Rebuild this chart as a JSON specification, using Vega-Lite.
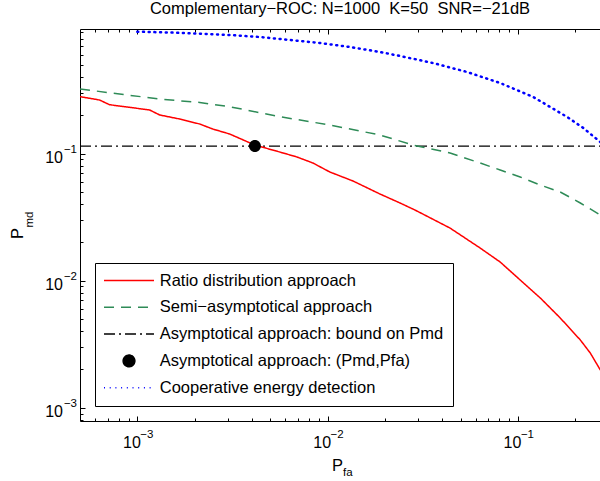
{
  "$schema": "https://vega.github.io/schema/vega-lite/v6.json",
  "width": 520,
  "height": 392,
  "autosize": {"type": "none"},
  "padding": {"left": 80, "top": 29, "right": 0, "bottom": 60},
  "background": "white",
  "config": {
    "view": {"stroke": null},
    "font": "Liberation Sans",
    "axis": {"grid": false, "domainColor": "black", "tickColor": "black", "labelColor": "black", "titleColor": "black", "labelFont": "Liberation Sans", "titleFont": "Liberation Sans", "titleFontWeight": "normal", "domainWidth": 1, "tickWidth": 1, "labelOverlap": false, "labelFlush": false, "labelBound": false}
  },
  "title": {"text": "Complementary−ROC: N=1000\u00a0 K=50\u00a0 SNR=−21dB", "font": "Liberation Sans", "fontSize": 16.5, "fontWeight": "normal", "color": "black", "anchor": "middle", "frame": "group", "offset": 10, "dy": 18, "baseline": "alphabetic"},
  "datasets": {
    "ratio": [
      {"s": "ratio", "x": 0.0005, "y": 0.280},
      {"s": "ratio", "x": 0.000633, "y": 0.2636},
      {"s": "ratio", "x": 0.000715, "y": 0.242},
      {"s": "ratio", "x": 0.001161, "y": 0.220},
      {"s": "ratio", "x": 0.001311, "y": 0.201},
      {"s": "ratio", "x": 0.001669, "y": 0.1868},
      {"s": "ratio", "x": 0.002128, "y": 0.1706},
      {"s": "ratio", "x": 0.00249, "y": 0.1559},
      {"s": "ratio", "x": 0.00306, "y": 0.1423},
      {"s": "ratio", "x": 0.004143, "y": 0.1166},
      {"s": "ratio", "x": 0.00561, "y": 0.1027},
      {"s": "ratio", "x": 0.0069, "y": 0.0939},
      {"s": "ratio", "x": 0.00837, "y": 0.0842},
      {"s": "ratio", "x": 0.01028, "y": 0.0715},
      {"s": "ratio", "x": 0.01359, "y": 0.0608},
      {"s": "ratio", "x": 0.01885, "y": 0.0480},
      {"s": "ratio", "x": 0.02402, "y": 0.0408},
      {"s": "ratio", "x": 0.0288, "y": 0.0359},
      {"s": "ratio", "x": 0.044, "y": 0.0259},
      {"s": "ratio", "x": 0.0633, "y": 0.01805},
      {"s": "ratio", "x": 0.0807, "y": 0.0140},
      {"s": "ratio", "x": 0.1028, "y": 0.01011},
      {"s": "ratio", "x": 0.1311, "y": 0.0073},
      {"s": "ratio", "x": 0.1669, "y": 0.00508},
      {"s": "ratio", "x": 0.2128, "y": 0.00341},
      {"s": "ratio", "x": 0.2402, "y": 0.00269},
      {"s": "ratio", "x": 0.2711, "y": 0.00198}
    ],
    "semi": [
      {"s": "semi", "x": 0.0005, "y": 0.3218},
      {"s": "semi", "x": 0.000807, "y": 0.2938},
      {"s": "semi", "x": 0.001311, "y": 0.2684},
      {"s": "semi", "x": 0.002128, "y": 0.2520},
      {"s": "semi", "x": 0.00306, "y": 0.2334},
      {"s": "semi", "x": 0.00561, "y": 0.1948},
      {"s": "semi", "x": 0.01028, "y": 0.1675},
      {"s": "semi", "x": 0.01885, "y": 0.1398},
      {"s": "semi", "x": 0.0281, "y": 0.1166},
      {"s": "semi", "x": 0.044, "y": 0.1009},
      {"s": "semi", "x": 0.0633, "y": 0.0842},
      {"s": "semi", "x": 0.0807, "y": 0.0742},
      {"s": "semi", "x": 0.1028, "y": 0.0653},
      {"s": "semi", "x": 0.1311, "y": 0.0565},
      {"s": "semi", "x": 0.1669, "y": 0.0498},
      {"s": "semi", "x": 0.2128, "y": 0.0408},
      {"s": "semi", "x": 0.2711, "y": 0.0328}
    ],
    "coop": [
      {"s": "coop", "x": 0.001, "y": 0.9085},
      {"s": "coop", "x": 0.001479, "y": 0.8953},
      {"s": "coop", "x": 0.002128, "y": 0.8762},
      {"s": "coop", "x": 0.00306, "y": 0.8555},
      {"s": "coop", "x": 0.0044, "y": 0.8253},
      {"s": "coop", "x": 0.00633, "y": 0.7816},
      {"s": "coop", "x": 0.00911, "y": 0.7403},
      {"s": "coop", "x": 0.01311, "y": 0.6885},
      {"s": "coop", "x": 0.01885, "y": 0.6288},
      {"s": "coop", "x": 0.02402, "y": 0.5851},
      {"s": "coop", "x": 0.0358, "y": 0.5152},
      {"s": "coop", "x": 0.0541, "y": 0.4377},
      {"s": "coop", "x": 0.0807, "y": 0.3586},
      {"s": "coop", "x": 0.1203, "y": 0.2783},
      {"s": "coop", "x": 0.1817, "y": 0.1937},
      {"s": "coop", "x": 0.2207, "y": 0.1587},
      {"s": "coop", "x": 0.2711, "y": 0.1231}
    ],
    "bound": [
      {"s": "bound", "x": 0.0005, "y": 0.1145},
      {"s": "bound", "x": 0.27, "y": 0.1145}
    ],
    "point": [
      {"s": "point", "x": 0.00415, "y": 0.1145}
    ]
  },
  "layer": [
    {
      "data": {"name": "bound"},
      "mark": {"type": "line", "strokeWidth": 1.3, "clip": true},
      "encoding": {
        "x": {"field": "x", "type": "quantitative", "scale": {"type": "log", "domain": [0.0005, 0.27], "nice": false},
              "axis": {"orient": "top", "values": [0.0006, 0.0007, 0.0008, 0.0009, 0.002, 0.003, 0.004, 0.005, 0.006, 0.007, 0.008, 0.009, 0.02, 0.03, 0.04, 0.05, 0.06, 0.07, 0.08, 0.09, 0.2], "tickSize": -3, "labels": false, "title": null, "domain": false}},
        "y": {"field": "y", "type": "quantitative", "scale": {"type": "log", "domain": [0.000786, 0.954], "nice": false}, "axis": null},
        "color": {"field": "s", "type": "nominal", "scale": {"domain": ["ratio", "semi", "bound", "point", "coop"], "range": ["#ff0000", "#2e8b57", "#000000", "#000000", "#0000ff"]}},
        "strokeDash": {"field": "s", "type": "nominal", "scale": {"domain": ["ratio", "semi", "bound", "point", "coop"], "range": [[1, 0], [10, 7], [11, 4, 2, 4], [1, 0], [1, 4.7]]}, "legend": {"title": null}}
      }
    },
    {
      "data": {"name": "semi"},
      "mark": {"type": "line", "strokeWidth": 1.5, "clip": true},
      "encoding": {
        "x": {"field": "x", "type": "quantitative", "scale": {"type": "log", "domain": [0.0005, 0.27], "nice": false},
              "axis": {"orient": "bottom", "values": [0.0006, 0.0007, 0.0008, 0.0009, 0.001, 0.002, 0.003, 0.004, 0.005, 0.006, 0.007, 0.008, 0.009, 0.01, 0.02, 0.03, 0.04, 0.05, 0.06, 0.07, 0.08, 0.09, 0.1, 0.2],
                       "labelExpr": "datum.value == 0.001 ? '−3' : datum.value == 0.01 ? '−2' : datum.value == 0.1 ? '−1' : ''",
                       "tickSize": -3, "labelPadding": 19.5, "labelAlign": "left", "labelBaseline": "alphabetic", "labelOffset": 2.5, "labelFontSize": 11.5,
                       "title": "fa", "titleFontSize": 11.5, "titleX": 262.5, "titleY": 54, "titleAlign": "left", "titleBaseline": "alphabetic", "domain": false}},
        "y": {"field": "y", "type": "quantitative", "scale": {"type": "log", "domain": [0.000786, 0.954], "nice": false},
              "axis": {"orient": "left", "values": [0.0008, 0.0009, 0.001, 0.002, 0.003, 0.004, 0.005, 0.006, 0.007, 0.008, 0.009, 0.01, 0.02, 0.03, 0.04, 0.05, 0.06, 0.07, 0.08, 0.09, 0.1, 0.2, 0.3, 0.4, 0.5, 0.6, 0.7, 0.8, 0.9],
                       "labelExpr": "datum.value == 0.001 ? '−3' : datum.value == 0.01 ? '−2' : datum.value == 0.1 ? '−1' : ''",
                       "tickSize": -3, "labelPadding": 6.5, "labelAlign": "right", "labelBaseline": "alphabetic", "labelOffset": -1, "labelFontSize": 11.5,
                       "title": "md", "titleFontSize": 11.5, "titleAngle": -90, "titleX": -48, "titleY": 190, "titleAlign": "center", "titleBaseline": "alphabetic", "domain": false}},
        "color": {"field": "s", "type": "nominal", "scale": {"domain": ["ratio", "semi", "bound", "point", "coop"], "range": ["#ff0000", "#2e8b57", "#000000", "#000000", "#0000ff"]}},
        "strokeDash": {"field": "s", "type": "nominal", "scale": {"domain": ["ratio", "semi", "bound", "point", "coop"], "range": [[1, 0], [10, 7], [11, 4, 2, 4], [1, 0], [1, 4.7]]}}
      }
    },
    {
      "data": {"name": "ratio"},
      "mark": {"type": "line", "strokeWidth": 1.5, "clip": true},
      "encoding": {
        "x": {"field": "x", "type": "quantitative", "scale": {"type": "log", "domain": [0.0005, 0.27], "nice": false},
              "axis": {"orient": "bottom", "values": [0.001, 0.01, 0.1], "labelExpr": "'10'", "tickSize": -5, "labelPadding": 31.3, "labelAlign": "right", "labelBaseline": "alphabetic", "labelOffset": 3, "labelFontSize": 16,
                       "title": "P", "titleFontSize": 16.5, "titleX": 257, "titleY": 49, "titleAlign": "center", "titleBaseline": "alphabetic", "domain": true}},
        "y": {"field": "y", "type": "quantitative", "scale": {"type": "log", "domain": [0.000786, 0.954], "nice": false},
              "axis": {"orient": "left", "values": [0.001, 0.01, 0.1], "labelExpr": "'10'", "tickSize": -5, "labelPadding": 22.5, "labelAlign": "right", "labelBaseline": "alphabetic", "labelOffset": 8.5, "labelFontSize": 16,
                       "title": "P", "titleFontSize": 16.5, "titleAngle": -90, "titleX": -58, "titleY": 204, "titleAlign": "center", "titleBaseline": "alphabetic", "domain": true}},
        "color": {"field": "s", "type": "nominal", "scale": {"domain": ["ratio", "semi", "bound", "point", "coop"], "range": ["#ff0000", "#2e8b57", "#000000", "#000000", "#0000ff"]},
                  "legend": {
                    "orient": "none", "legendX": 15, "legendY": 234, "title": null, "direction": "vertical",
                    "labelExpr": "datum.value === 'ratio' ? 'Ratio distribution approach' : datum.value === 'semi' ? 'Semi−asymptotical approach' : datum.value === 'bound' ? 'Asymptotical approach: bound on Pmd' : datum.value === 'point' ? 'Asymptotical approach: (Pmd,Pfa)' : 'Cooperative energy detection'",
                    "labelFont": "Liberation Sans", "labelFontSize": 16.5, "labelColor": "black", "labelLimit": 500, "labelBaseline": "middle", "labelOffset": 22.5,
                    "symbolSize": 137, "symbolOffset": 16.75, "symbolStrokeWidth": 1.5, "clipHeight": 17, "rowPadding": 9.8, "padding": 9,
                    "strokeColor": "black", "fillColor": "white", "cornerRadius": 0
                  }},
        "strokeDash": {"field": "s", "type": "nominal", "scale": {"domain": ["ratio", "semi", "bound", "point", "coop"], "range": [[1, 0], [10, 7], [11, 4, 2, 4], [1, 0], [1, 4.7]]}}
      }
    },
    {
      "data": {"name": "coop"},
      "mark": {"type": "line", "strokeWidth": 2.5, "strokeCap": "round", "clip": true},
      "encoding": {
        "x": {"field": "x", "type": "quantitative", "scale": {"type": "log", "domain": [0.0005, 0.27], "nice": false},
              "axis": {"orient": "top", "values": [0.001, 0.01, 0.1], "tickSize": -5, "labels": false, "title": null, "domain": true}},
        "y": {"field": "y", "type": "quantitative", "scale": {"type": "log", "domain": [0.000786, 0.954], "nice": false}, "axis": null},
        "color": {"field": "s", "type": "nominal", "scale": {"domain": ["ratio", "semi", "bound", "point", "coop"], "range": ["#ff0000", "#2e8b57", "#000000", "#000000", "#0000ff"]}},
        "strokeDash": {"field": "s", "type": "nominal", "scale": {"domain": ["ratio", "semi", "bound", "point", "coop"], "range": [[1, 0], [10, 7], [11, 4, 2, 4], [1, 0], [1, 4.7]]}}
      }
    },
    {
      "data": {"name": "point"},
      "mark": {"type": "point", "filled": true, "size": 144, "opacity": 1, "clip": true},
      "encoding": {
        "x": {"field": "x", "type": "quantitative", "scale": {"type": "log", "domain": [0.0005, 0.27], "nice": false}, "axis": null},
        "y": {"field": "y", "type": "quantitative", "scale": {"type": "log", "domain": [0.000786, 0.954], "nice": false}, "axis": null},
        "color": {"field": "s", "type": "nominal", "scale": {"domain": ["ratio", "semi", "bound", "point", "coop"], "range": ["#ff0000", "#2e8b57", "#000000", "#000000", "#0000ff"]}},
        "shape": {"field": "s", "type": "nominal", "scale": {"domain": ["ratio", "semi", "bound", "point", "coop"], "range": ["M-4.27,0H4.27", "M-4.27,0H4.27", "M-4.27,0H4.27", "M-1,0A1,1,0,1,1,1,0A1,1,0,1,1,-1,0Z", "M-4.27,0H4.27"]}, "legend": {"title": null}}
      }
    }
  ],
  "resolve": {"axis": {"x": "independent", "y": "independent"}}
}
